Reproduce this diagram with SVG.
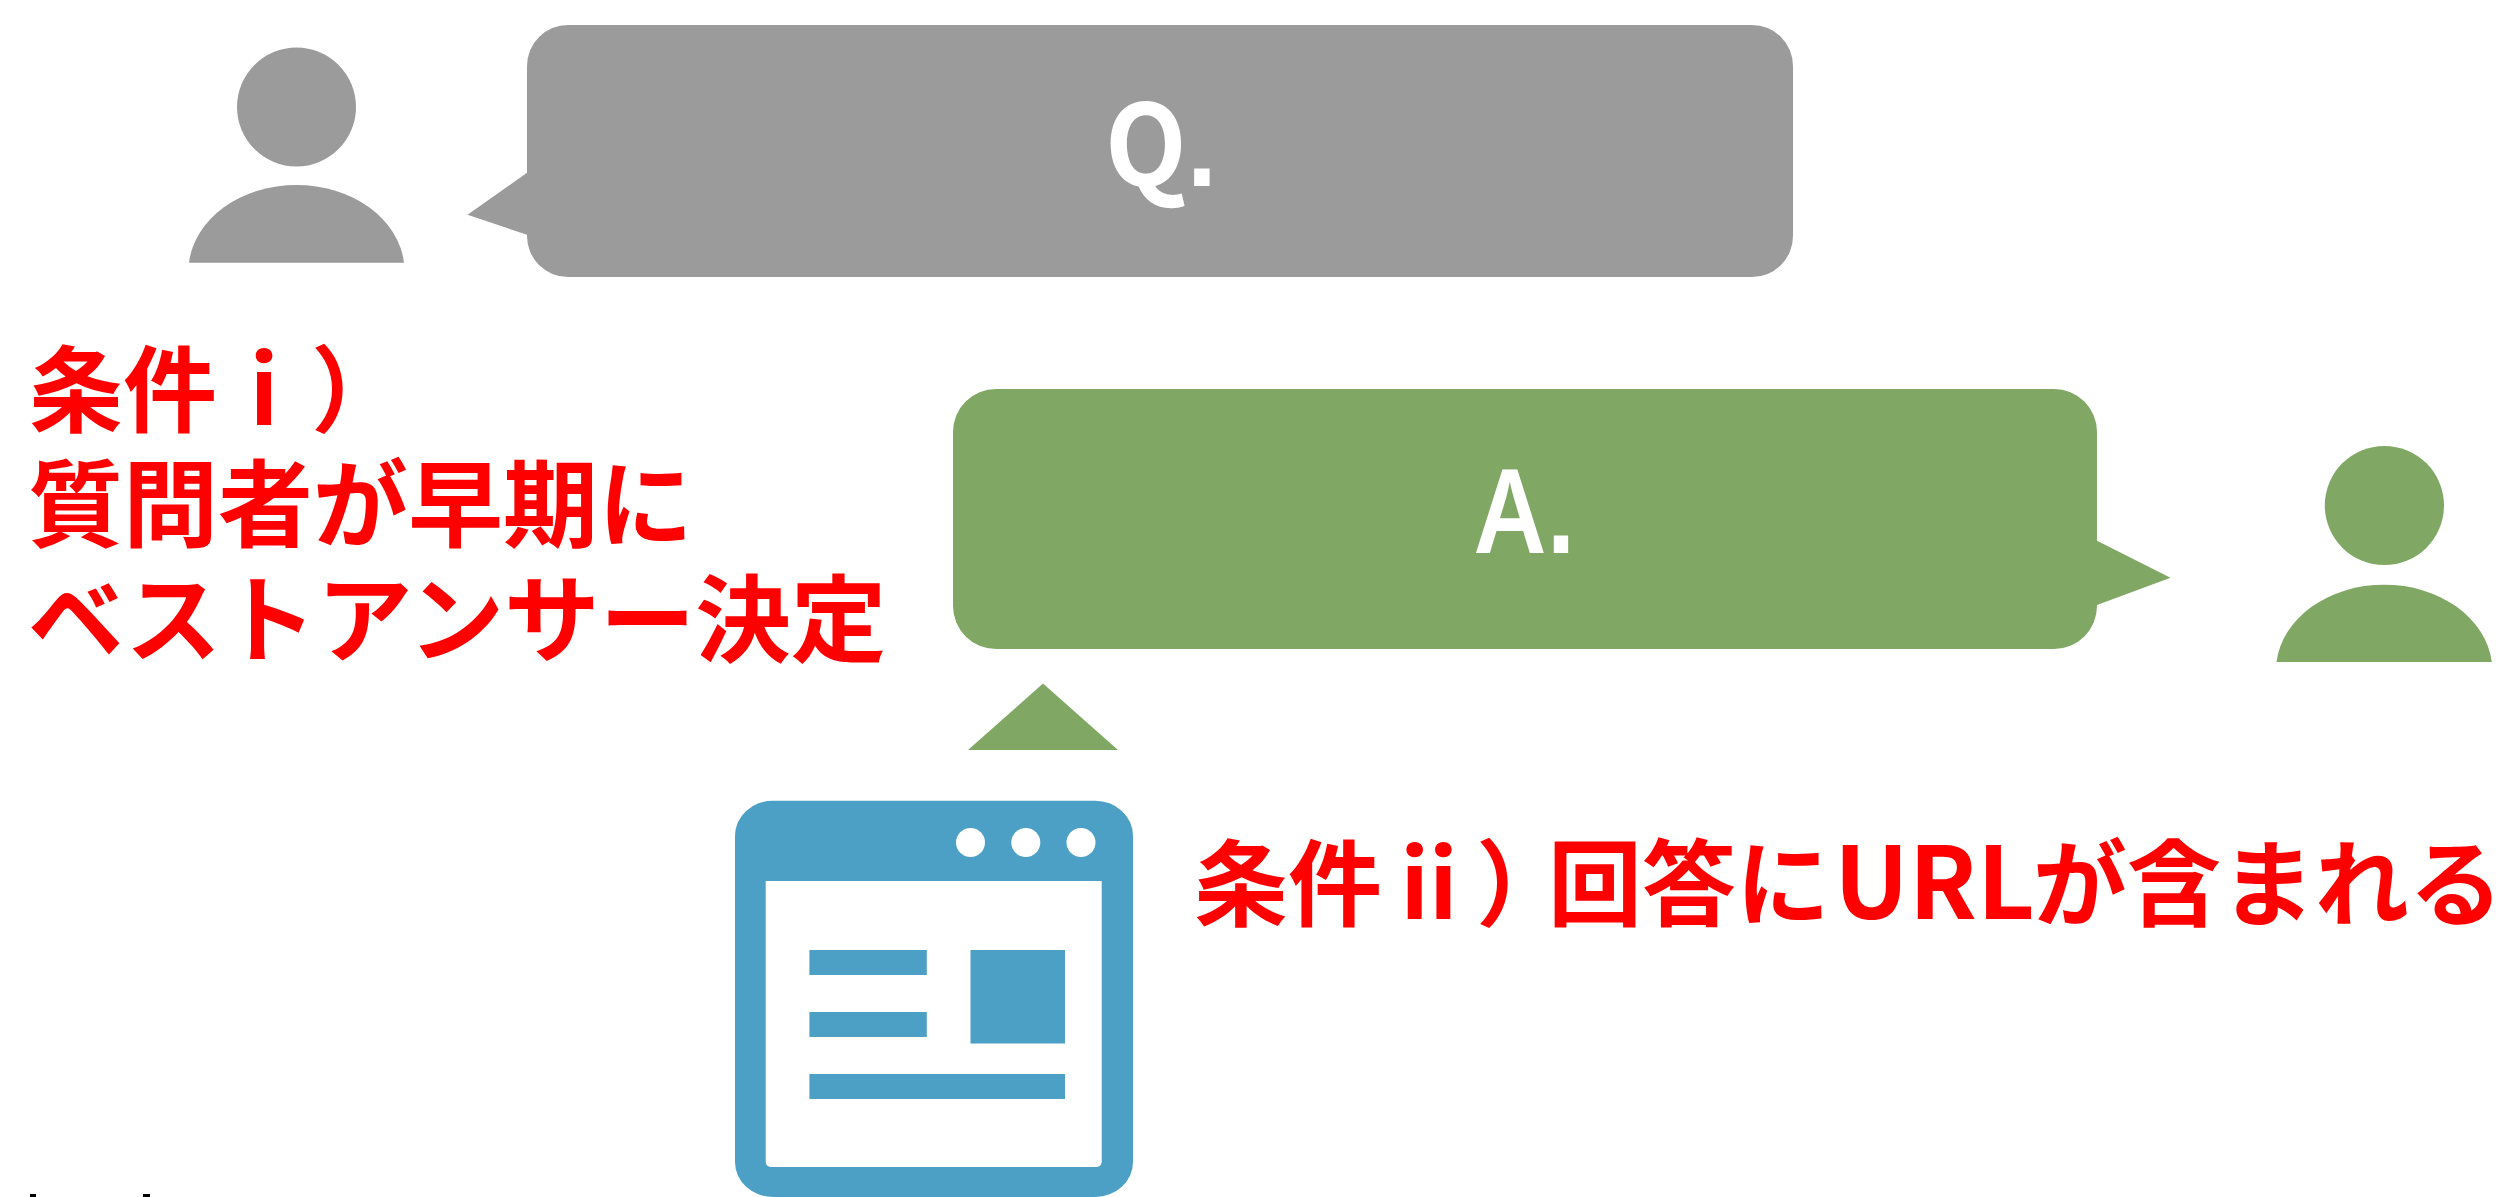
<svg xmlns="http://www.w3.org/2000/svg" width="2505" height="1197" viewBox="0 0 2505 1197">
<style>
.g{fill:#9b9b9b}.v{fill:#80a864}.b{fill:#4ca0c6}.w{fill:#fff}
.r{font-family:"Noto Sans CJK JP","Liberation Sans",sans-serif;font-weight:700;fill:#f00;font-size:94px}
.l{font-family:"Noto Sans","Liberation Sans",sans-serif;font-weight:600;fill:#fff;font-size:116px}
.d{font-family:"Liberation Sans",sans-serif;font-weight:700}
.c{font-family:"Noto Sans CJK JP",sans-serif;font-weight:700;font-size:113px}
</style>
<rect width="2505" height="1197" fill="#fff"/>
<g id="person-q" class="g"><circle cx="296.500" cy="107" r="59.500"/><path d="M189 262.700A108 86 0 0 1 404 262.700Z"/></g>
<g id="bubble-q"><path class="g" d="M568 25H1752A41 41 0 0 1 1793 66V236A41 41 0 0 1 1752 277H568A41 41 0 0 1 527 236V234.800L467.500 214.700L527 172.800V66A41 41 0 0 1 568 25Z"/><text class="l" x="1105" y="186" textLength="112" lengthAdjust="spacingAndGlyphs"><tspan class="c">Q</tspan><tspan class="d">.</tspan></text></g>
<g id="bubble-a"><path class="v" d="M996 389H2054A43 43 0 0 1 2097 432V540.700L2170.500 577.700L2097 605V606A43 43 0 0 1 2054 649H996A43 43 0 0 1 953 606V432A43 43 0 0 1 996 389Z"/><text class="l" transform="translate(1476 553.300) scale(.87 1)" x="0" y="0">A<tspan class="d" x="81.600">.</tspan></text></g>
<g id="person-a" class="v"><circle cx="2384.400" cy="505.500" r="59.600"/><path d="M2276.500 662A108.200 86 0 0 1 2491.800 662Z"/></g>
<g id="connectors"><polygon class="v" points="1043,683.500 1118,750 968,750"/></g>
<g id="browser"><rect class="b" x="735" y="800.700" width="398" height="396.300" rx="38" ry="35"/>
<path class="w" d="M765.700 881H1101.700V1162A5 5 0 0 1 1096.700 1167H770.700A5 5 0 0 1 765.700 1162Z"/>
<circle class="w" cx="970.500" cy="842.500" r="14.500"/><circle class="w" cx="1025.800" cy="842.500" r="14.500"/><circle class="w" cx="1081" cy="842.500" r="14.500"/>
<rect class="b" x="809.400" y="950" width="117.400" height="25"/><rect class="b" x="809.400" y="1012" width="117.400" height="25"/><rect class="b" x="970.500" y="950" width="94.500" height="93.500"/><rect class="b" x="809.400" y="1074" width="255.600" height="25"/></g>
<g id="cond-1"><text class="r" x="29" y="425">条件ⅰ）</text><text class="r" x="28" y="540" style="font-size:95px">質問者が早期に</text><text class="r" x="28" y="655" style="font-size:95.600px">ベストアンサー決定</text></g>
<g id="cond-2"><text class="r" y="919"><tspan x="1194">条件ⅱ）</tspan><tspan x="1548">回答に</tspan><tspan x="1834" style="font-size:100px">URL</tspan><tspan x="2033">が含まれる</tspan></text></g>
<g id="clipped-marks"><rect x="30" y="1194" width="6" height="3"/><rect x="143" y="1194" width="7" height="3"/></g>
</svg>
